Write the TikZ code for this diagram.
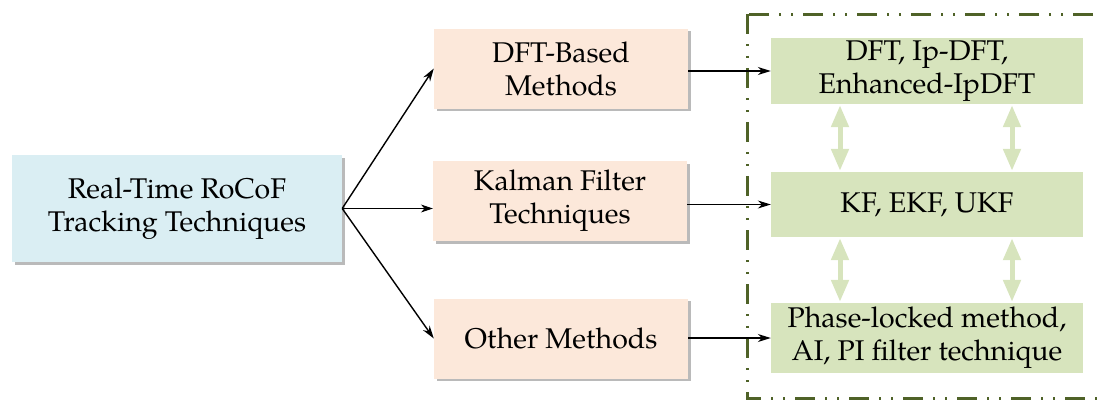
\documentclass[tikz,border=0pt]{standalone}
\usepackage{fontspec}
\setmainfont{TeX Gyre Pagella}
\usetikzlibrary{arrows.meta,shadows}
\definecolor{bluefill}{HTML}{DAEEF3}
\definecolor{orangefill}{HTML}{FCE8DA}
\definecolor{greenfill}{HTML}{D7E4BD}
\definecolor{olive}{HTML}{4F6228}
\tikzset{
  box/.style={inner sep=0pt, align=center, font=\fontsize{28.5}{33}\selectfont},
  shadowed/.style={drop shadow={shadow xshift=2.5pt, shadow yshift=-2.5pt, opacity=0.45, fill=black!60}},
  leftbox/.style={box, fill=bluefill, shadowed, minimum width=330pt, minimum height=107pt},
  midbox/.style={box, fill=orangefill, shadowed, minimum width=254pt, minimum height=80pt},
  gbox/.style={box, fill=greenfill, minimum width=312pt},
  arr/.style={-{Stealth[length=13pt,width=8pt]}, line width=1.4pt},
  thinarr/.style={-{Stealth[length=12pt,width=8pt]}, line width=0.8pt},
  dblarr/.style={draw=greenfill, line width=5pt, {Triangle[width=17pt,length=22pt]}-{Triangle[width=17pt,length=22pt]}},
  frame/.style={draw=olive, line width=3pt, dash pattern=on 20pt off 10pt on 2pt off 10pt on 2pt off 10pt}
}
\begin{document}
\begin{tikzpicture}[x=1pt,y=-1pt]
\useasboundingbox (0,0) rectangle (1102,399);
\clip (0,0) rectangle (1102,399);
\draw[frame] (747,14) rectangle (1130,398);

\node[leftbox] (root) at (177,208.5) {Real-Time RoCoF\\Tracking Techniques};

\node[midbox] (dft) at (561,68.5) {DFT-Based\\Methods};
\node[midbox] (kal) at (560,201) {Kalman Filter\\Techniques};
\node[midbox] (oth) at (561,338.5) {Other Methods};

\node[gbox, minimum height=66pt] (dftg) at (927,71) {DFT, Ip-DFT,\\Enhanced-IpDFT};
\node[gbox, minimum height=65pt] (kfg) at (927,204.5) {KF, EKF, UKF};
\node[gbox, minimum height=70pt] (phg) at (927,338) {Phase-locked method,\\AI, PI filter technique};

\draw[arr] (root.east) -- (dft.west);
\draw[thinarr] (root.east) -- (root.east -| kal.west);
\draw[arr] (root.east) -- (oth.west);

\draw[arr] (dft.east |- dftg.west) -- (dftg.west);
\draw[arr] (kal.east |- kfg.west) -- (kfg.west);
\draw[arr] (oth.east |- phg.west) -- (phg.west);

\foreach \dx in {-87,85}{
  \draw[dblarr] ([xshift=\dx pt,yshift=-1pt]dftg.south) -- ([xshift=\dx pt,yshift=1pt]kfg.north);
  \draw[dblarr] ([xshift=\dx pt,yshift=-1pt]kfg.south) -- ([xshift=\dx pt,yshift=1pt]phg.north);
}
\end{tikzpicture}
\end{document}
